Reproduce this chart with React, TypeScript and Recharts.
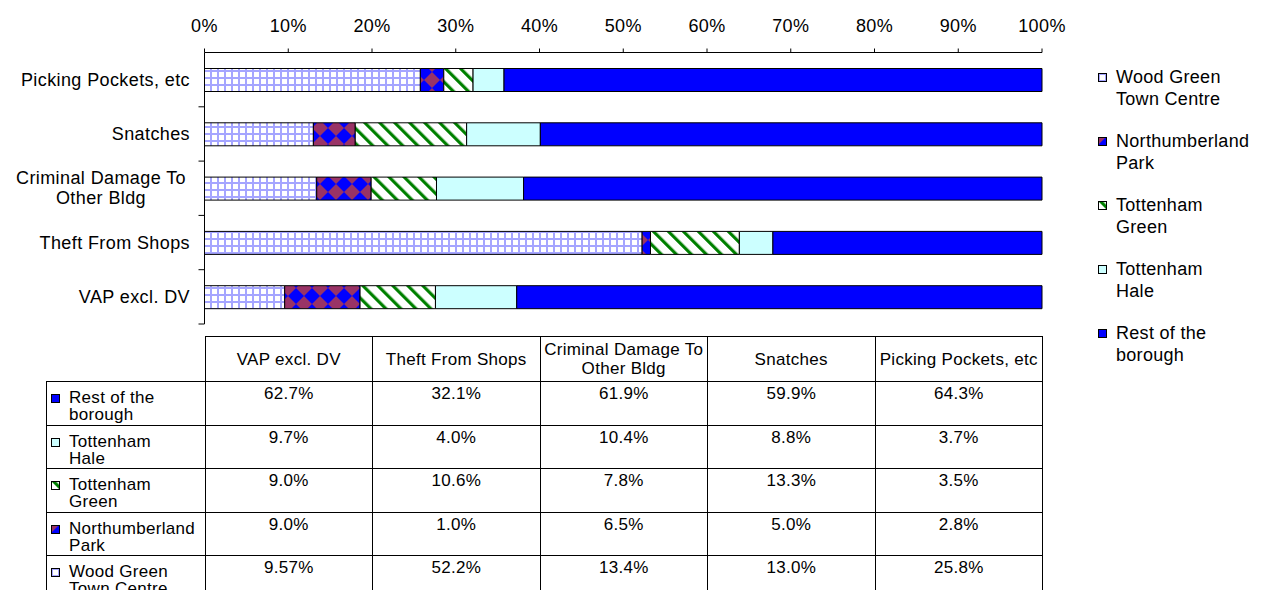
import React from "react";
import { Bar, BarChart, Legend, XAxis, YAxis } from "recharts";

// categories, top-to-bottom in the table = bottom-to-top in the chart
const categories = [
  "VAP excl. DV",
  "Theft From Shops",
  "Criminal Damage To Other Bldg",
  "Snatches",
  "Picking Pockets, etc",
];

const seriesNames = [
  "Wood Green Town Centre",
  "Northumberland Park",
  "Tottenham Green",
  "Tottenham Hale",
  "Rest of the borough",
];

// share (%) per category, same order as categories
const woodGreen = [9.57, 52.2, 13.4, 13.0, 25.8];
const northumberland = [9.0, 1.0, 6.5, 5.0, 2.8];
const tottenhamGreen = [9.0, 10.6, 7.8, 13.3, 3.5];
const tottenhamHale = [9.7, 4.0, 10.4, 8.8, 3.7];
const restOfBorough = [62.7, 32.1, 61.9, 59.9, 64.3];

const xTicks = [0, 0.1, 0.2, 0.3, 0.4, 0.5, 0.6, 0.7, 0.8, 0.9, 1];

const FONT = '"Liberation Sans", Arial, sans-serif';
const PLOT_LEFT = 204.5;
const PLOT_RIGHT = 1042;
const PLOT_TOP = 52.5;
const PLOT_BOTTOM = 324;
const BAND = (PLOT_BOTTOM - PLOT_TOP) / categories.length;
const COL_W = (PLOT_RIGHT - PLOT_LEFT) / categories.length;

const series = [
  { key: "woodGreen", name: seriesNames[0], values: woodGreen, fill: "url(#pat-wg)" },
  { key: "northumberland", name: seriesNames[1], values: northumberland, fill: "url(#pat-np)" },
  { key: "tottenhamGreen", name: seriesNames[2], values: tottenhamGreen, fill: "url(#pat-tg)" },
  { key: "tottenhamHale", name: seriesNames[3], values: tottenhamHale, fill: "#ccffff" },
  { key: "restOfBorough", name: seriesNames[4], values: restOfBorough, fill: "#0000ff" },
];

const rows = categories.map((name, i) => {
  const row: Record<string, string | number> = { name };
  series.forEach((s) => (row[s.key] = s.values[i]));
  return row;
});

function wrap(text: string, max: number): string[] {
  const lines: string[] = [];
  let cur = "";
  text.split(" ").forEach((w) => {
    if (cur && (cur + " " + w).length > max) {
      lines.push(cur);
      cur = w;
    } else {
      cur = cur ? cur + " " + w : w;
    }
  });
  if (cur) lines.push(cur);
  return lines;
}

function pct(v: number) {
  const oneDec = Math.abs(v * 10 - Math.round(v * 10)) < 1e-6;
  return v.toFixed(oneDec ? 1 : 2) + "%";
}

function CategoryTick(props: any) {
  const { y, payload } = props;
  const lines = wrap(payload.value, 22);
  const right = PLOT_LEFT - 14.5;
  const multi = lines.length > 1;
  return (
    <g>
      <line x1={PLOT_LEFT - 6} x2={PLOT_LEFT} y1={y + BAND / 2} y2={y + BAND / 2} stroke="#000" />
      <text
        textAnchor={multi ? "middle" : "end"}
        fontSize={18}
        fontFamily={FONT}
        fill="#000"
        style={{ letterSpacing: "0.4px" }}
      >
        {lines.map((l, i) => (
          <tspan
            key={i}
            x={multi ? right - 89 : right}
            y={y + (i - (lines.length - 1) / 2) * 20}
            dy={6}
          >
            {l}
          </tspan>
        ))}
      </text>
    </g>
  );
}

function Swatch({ fill }: { fill: string }) {
  return (
    <svg width={10} height={10} style={{ display: "block" }}>
      <rect x={0.5} y={0.5} width={8} height={8} fill={fill} stroke="#000" strokeWidth={1} />
    </svg>
  );
}

function LegendBox() {
  return (
    <div style={{ fontFamily: FONT, fontSize: 18, letterSpacing: "0.3px", color: "#000" }}>
      {series.map((s) => (
        <div key={s.key} style={{ position: "relative", paddingLeft: 22, height: 64, lineHeight: "22px" }}>
          <div style={{ position: "absolute", left: 4, top: 7 }}>
            <Swatch fill={s.fill} />
          </div>
          {wrap(s.name, 13).map((l, i) => (
            <div key={i} style={{ whiteSpace: "nowrap" }}>{l}</div>
          ))}
        </div>
      ))}
    </div>
  );
}

export default function App() {
  const border = "1px solid #000";
  return (
    <div
      style={{
        position: "absolute",
        left: 0,
        top: 0,
        width: 1275,
        height: 590,
        overflow: "hidden",
        background: "#fff",
        fontFamily: FONT,
      }}
    >
      <BarChart
        width={1275}
        height={340}
        data={rows}
        layout="vertical"
        stackOffset="expand"
        barSize={23}
        margin={{ top: PLOT_TOP - 30, right: 1275 - PLOT_RIGHT, left: 0, bottom: 340 - PLOT_BOTTOM }}
      >
        <defs>
          <pattern id="pat-wg" width="7" height="7" patternUnits="userSpaceOnUse">
            <rect width="7" height="7" fill="#fff" />
            <path d="M0 1H7M1 0V7" stroke="#a5a5ff" strokeWidth="2" />
          </pattern>
          <pattern id="pat-np" width="16" height="16" patternUnits="userSpaceOnUse">
            <rect width="16" height="16" fill="#993366" />
            <path d="M8 0L16 8L8 16L0 8Z" fill="#0000ff" />
          </pattern>
          <pattern
            id="pat-tg"
            width="10.6"
            height="10.6"
            patternUnits="userSpaceOnUse"
            patternTransform="rotate(-45)"
          >
            <rect width="10.6" height="10.6" fill="#fff" />
            <rect width="3.2" height="10.6" fill="#008000" />
          </pattern>
        </defs>
        <XAxis
          type="number"
          orientation="top"
          domain={[0, 1]}
          ticks={xTicks}
          tickFormatter={(v: number) => `${Math.round(v * 100)}%`}
          height={30}
          tickSize={4}
          tickMargin={17}
          axisLine={{ stroke: "#000" }}
          tickLine={{ stroke: "#000" }}
          tick={{ fontSize: 18, fill: "#000", fontFamily: FONT, style: { letterSpacing: "0.4px" } }}
          interval={0}
        />
        <YAxis
          type="category"
          dataKey="name"
          reversed
          width={PLOT_LEFT}
          axisLine={{ stroke: "#000" }}
          tickLine={false}
          tick={<CategoryTick />}
          interval={0}
        />
        <Legend
          layout="vertical"
          align="center"
          verticalAlign="middle"
          wrapperStyle={{ left: 1094, top: 66, width: 180 }}
          content={() => <LegendBox />}
        />
        {series.map((s) => (
          <Bar
            key={s.key}
            dataKey={s.key}
            name={s.name}
            stackId="share"
            fill={s.fill}
            stroke="#000"
            strokeWidth={1}
            isAnimationActive={false}
          />
        ))}
      </BarChart>

      <table
        style={{
          position: "absolute",
          left: 46,
          top: 336,
          borderCollapse: "collapse",
          tableLayout: "fixed",
          width: PLOT_RIGHT - 46,
          fontSize: 17,
          letterSpacing: "0.3px",
          color: "#000",
        }}
      >
        <colgroup>
          <col style={{ width: PLOT_LEFT - 46 }} />
          {categories.map((c) => (
            <col key={c} style={{ width: COL_W }} />
          ))}
        </colgroup>
        <thead>
          <tr style={{ height: 45 }}>
            <th style={{ border: "none", padding: 0 }} />
            {categories.map((c) => (
              <th
                key={c}
                style={{ border, fontWeight: "normal", textAlign: "center", verticalAlign: "middle", padding: 0, lineHeight: "19px" }}
              >
                {wrap(c, 22).map((l, i) => (
                  <div key={i} style={{ whiteSpace: "nowrap" }}>{l}</div>
                ))}
              </th>
            ))}
          </tr>
        </thead>
        <tbody>
          {[...series].reverse().map((s) => (
            <tr key={s.key} style={{ height: 43.5 }}>
              <td style={{ border, verticalAlign: "top", padding: "7px 0 0 22px", position: "relative", lineHeight: "17px" }}>
                <div style={{ position: "absolute", left: 4, top: 12 }}>
                  <Swatch fill={s.fill} />
                </div>
                {wrap(s.name, 13).map((l, i) => (
                  <div key={i} style={{ whiteSpace: "nowrap" }}>{l}</div>
                ))}
              </td>
              {s.values.map((v, i) => (
                <td
                  key={i}
                  style={{ border, textAlign: "center", verticalAlign: "top", padding: "3px 0 0 0", lineHeight: "18px" }}
                >
                  {pct(v)}
                </td>
              ))}
            </tr>
          ))}
        </tbody>
      </table>
    </div>
  );
}
